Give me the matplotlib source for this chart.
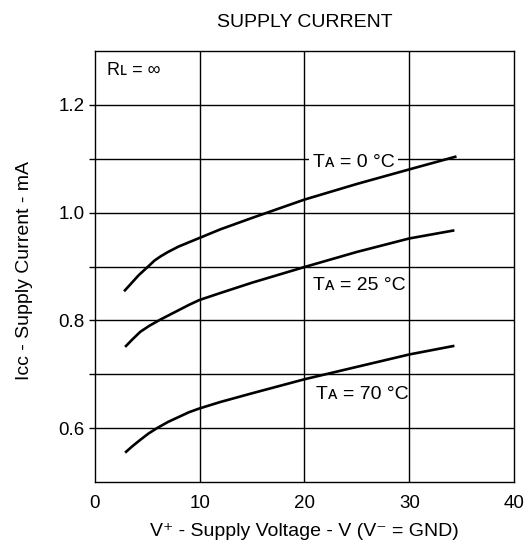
import numpy as np
import matplotlib
matplotlib.use("Agg")
import matplotlib.pyplot as plt

# Werte
v_0c = [2.8, 3.5, 4.2, 5.1, 5.7, 6.3, 7.0, 8.0, 9.0, 10.0, 12.0, 15.0, 20.0, 25.0, 30.0, 34.5]
i_0c = [0.854, 0.869, 0.884, 0.900, 0.911, 0.919, 0.927, 0.937, 0.945, 0.953, 0.969, 0.990,
        1.024, 1.053, 1.080, 1.104]

v_25c = [2.9, 3.6, 4.35, 5.2, 6.2, 7.0, 8.0, 9.0, 10.0, 12.0, 15.0, 20.0, 25.0, 30.0, 34.3]
i_25c = [0.751, 0.765, 0.779, 0.790, 0.801, 0.809, 0.819, 0.829, 0.838, 0.851, 0.870, 0.899,
         0.927, 0.952, 0.967]

v_70c = [2.9, 3.6, 4.3, 5.1, 5.9, 7.0, 8.0, 9.0, 10.0, 12.0, 15.0, 20.0, 25.0, 30.0, 34.3]
i_70c = [0.555, 0.567, 0.578, 0.590, 0.600, 0.612, 0.621, 0.630, 0.637, 0.649, 0.665, 0.691,
         0.714, 0.737, 0.753]

labels = ["T\u1d00 = 0 \u00b0C", "T\u1d00 = 25 \u00b0C", "T\u1d00 = 70 \u00b0C"]
label_pos = [(20.8, 1.0845), (20.8, 0.856), (21.1, 0.654)]

x_ticks = [0, 10, 20, 30, 40]
y_ticks = [0.6, 0.8, 1.0, 1.2]
y_grid = [0.6, 0.7, 0.8, 0.9, 1.0, 1.1, 1.2]

plt.rcParams['font.family'] = ['Liberation Sans', 'DejaVu Sans']

fig = plt.figure(figsize=(5.29, 5.45), dpi=100)
ax = fig.add_axes([0.179, 0.115, 0.793, 0.792])

# Gitter
for yv in y_grid:
    ax.axhline(yv, color='black', lw=1.0, zorder=1)
for xv in [10, 20, 30]:
    ax.axvline(xv, color='black', lw=1.0, zorder=1)

# Kurven
for v, i in [(v_0c, i_0c), (v_25c, i_25c), (v_70c, i_70c)]:
    ax.plot(v, i, color='black', lw=1.9, zorder=3, solid_capstyle='butt', solid_joinstyle='round')

for k, (txt, (x, y)) in enumerate(zip(labels, label_pos)):
    t = ax.text(x, y, txt, fontsize=14, ha='left', va='baseline', zorder=2)
    if k == 0:
        # weisser Hintergrund unterbricht die Gitterlinie
        t.set_bbox(dict(facecolor='white', edgecolor='none', pad=2.5))

ax.text(1.17, 1.255, "R\u029f = \u221e", fontsize=13, ha='left', va='baseline')

ax.set_xlim(0, 40)
ax.set_ylim(0.5, 1.3)
ax.set_xticks(x_ticks)
ax.set_yticks(y_grid)
ax.set_yticklabels([f"{t:.1f}" if round(t, 1) in y_ticks else "" for t in y_grid])
ax.tick_params(axis='x', length=0, pad=9, labelsize=13.5)
ax.tick_params(axis='y', length=4, width=1.0, pad=3.5, labelsize=13.5)
for s in ax.spines.values():
    s.set_linewidth(1.0)

ax.set_xlabel("V\u207a - Supply Voltage - V (V\u207b = GND)", fontsize=14)
ax.set_ylabel("I\u1d04\u1d04 - Supply Current - mA", fontsize=14)
ax.xaxis.set_label_coords(0.5, -0.095)
ax.yaxis.set_label_coords(-0.148, 0.49)
ax.set_title("SUPPLY CURRENT", fontsize=14, pad=17)

fig.savefig("out.png", dpi=100)
